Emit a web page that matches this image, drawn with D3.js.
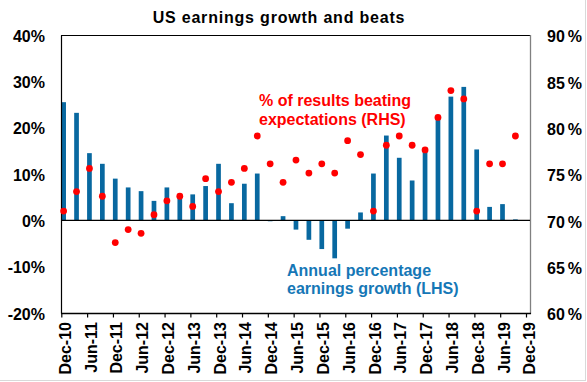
<!DOCTYPE html>
<html>
<head>
<meta charset="utf-8">
<script src="https://cdn.jsdelivr.net/npm/d3@7"></script>
<style>
  html, body { margin: 0; padding: 0; background: #fff; }
  svg { display: block; font-family: "Liberation Sans", Arial, sans-serif; }
</style>
</head>
<body>
<svg id="chart" width="587" height="382"></svg>
<script>
// ---- Data ----
const quarters = ["Dec-10","Mar-11","Jun-11","Sep-11","Dec-11","Mar-12","Jun-12","Sep-12","Dec-12",
  "Mar-13","Jun-13","Sep-13","Dec-13","Mar-14","Jun-14","Sep-14","Dec-14","Mar-15","Jun-15","Sep-15",
  "Dec-15","Mar-16","Jun-16","Sep-16","Dec-16","Mar-17","Jun-17","Sep-17","Dec-17","Mar-18","Jun-18",
  "Sep-18","Dec-18","Mar-19","Jun-19","Sep-19"];
const earningsGrowth = [25.5, 23.2, 14.5, 12.2, 9.0, 7.1, 6.3, 4.2, 7.1, 5.5, 5.6, 7.4, 12.2, 3.7, 7.9,
  10.1, -0.2, 0.9, -2.0, -4.2, -6.2, -8.2, -1.8, 1.7, 10.1, 18.3, 13.5, 8.6, 15.1, 22.2, 26.7, 28.8,
  15.3, 2.9, 3.5, 0.2];
const beatPct = [71.0, 73.1, 75.6, 72.6, 67.6, 69.0, 68.6, 70.6, 72.1, 72.6, 71.5, 74.5, 73.1, 74.1,
  75.6, 79.1, 76.1, 74.1, 76.5, 75.1, 76.1, 75.1, 78.6, 77.1, 71.0, 78.1, 79.1, 78.1, 77.6, 81.1, 84.0,
  83.1, 71.0, 76.1, 76.1, 79.1];
const xTickLabels = ["Dec-10","Jun-11","Dec-11","Jun-12","Dec-12","Jun-13","Dec-13","Jun-14","Dec-14",
  "Jun-15","Dec-15","Jun-16","Dec-16","Jun-17","Dec-17","Jun-18","Dec-18","Jun-19","Dec-19"];
const leftTicks = [-20, -10, 0, 10, 20, 30, 40];
const rightTicks = [60, 65, 70, 75, 80, 85, 90];
const title = "US earnings growth and beats";
const redLabel = ["% of results beating", "expectations (RHS)"];
const blueLabel = ["Annual percentage", "earnings growth (LHS)"];

// ---- Layout ----
const svg = d3.select("#chart");
const plot = { left: 61, right: 530, top: 35, bottom: 313 };
const barColor = "#0868a0";
const dotColor = "#ff0000";
const textBlue = "#1577b6";

const x = d3.scaleLinear().domain([0, 36]).range([61.3, 526]);
const barOffset = 0.18; // bars sit slightly right of the tick dates
const yL = d3.scaleLinear().domain([-20, 40]).range([plot.bottom, plot.top]);
const yR = d3.scaleLinear().domain([60, 90]).range([plot.bottom, plot.top]);

// outer light border (right / bottom)
svg.append("line").attr("x1", 585.5).attr("x2", 585.5).attr("y1", 0).attr("y2", 381)
  .attr("stroke", "#d9d9d9");
svg.append("line").attr("x1", 0).attr("x2", 586).attr("y1", 380.5).attr("y2", 380.5)
  .attr("stroke", "#d9d9d9");

// Title
svg.append("text").attr("x", 279).attr("y", 23).attr("text-anchor", "middle")
  .attr("font-size", 16).attr("font-weight", "bold").attr("letter-spacing", 0.8)
  .attr("fill", "#000").text(title);

// Bars
const bw = 4.7;
svg.append("g").selectAll("rect").data(earningsGrowth).join("rect")
  .attr("x", (d, i) => x(i + barOffset) - bw / 2)
  .attr("width", bw)
  .attr("y", d => yL(Math.max(0, d)))
  .attr("height", d => Math.abs(yL(d) - yL(0)))
  .attr("fill", barColor);

// Frame: top line, right gray line
svg.append("line").attr("x1", plot.left).attr("x2", plot.right).attr("y1", plot.top + 0.5).attr("y2", plot.top + 0.5)
  .attr("stroke", "#000").attr("stroke-width", 1);
svg.append("line").attr("x1", plot.right + 0.5).attr("x2", plot.right + 0.5).attr("y1", plot.top).attr("y2", plot.bottom + 1)
  .attr("stroke", "#808080").attr("stroke-width", 1.3);

// Zero line
svg.append("line").attr("x1", plot.left).attr("x2", plot.right).attr("y1", yL(0)).attr("y2", yL(0))
  .attr("stroke", "#000").attr("stroke-width", 1.2);

// Left axis
const gL = svg.append("g").attr("transform", `translate(${plot.left},0)`)
  .call(d3.axisLeft(yL).tickValues(leftTicks).tickSize(0).tickPadding(16).tickFormat(d => d + "%"));
gL.select(".domain").attr("stroke", "#000").attr("stroke-width", 1.2);
gL.selectAll("text").attr("font-size", 16).attr("font-weight", "bold").attr("fill", "#000")
  .attr("font-family", "Liberation Sans, Arial, sans-serif").attr("dy", "0.38em");

// Right axis labels
const gR = svg.append("g").attr("transform", `translate(${plot.right},0)`)
  .call(d3.axisRight(yR).tickValues(rightTicks).tickSize(0).tickPadding(17).tickFormat(d => d));
gR.select(".domain").remove();
gR.selectAll("text").attr("font-size", 16).attr("font-weight", "bold").attr("fill", "#000")
  .attr("font-family", "Liberation Sans, Arial, sans-serif").attr("dy", "0.42em")
  .each(function() {
    d3.select(this).append("tspan").attr("dx", 3).text("%");
  });

// Bottom axis
const xTickVals = xTickLabels.map((_, i) => i * 2);
const gB = svg.append("g").attr("transform", `translate(0,${plot.bottom})`)
  .call(d3.axisBottom(x).tickValues(xTickVals).tickSize(4.5).tickFormat((d, i) => xTickLabels[i]));
gB.select(".domain").attr("d", `M${plot.left},0.5H${plot.right + 1}`).attr("stroke", "#000").attr("stroke-width", 1.3);
gB.selectAll(".tick line").attr("stroke", "#000").attr("stroke-width", 1.2);
gB.selectAll("text").attr("font-size", 16).attr("font-weight", "bold").attr("fill", "#000")
  .attr("font-family", "Liberation Sans, Arial, sans-serif")
  .attr("text-anchor", "end")
  .attr("transform", "rotate(-90)")
  .attr("x", -9).attr("y", 3.3).attr("dy", "0.35em");

// Dots
svg.append("g").selectAll("circle").data(beatPct).join("circle")
  .attr("cx", (d, i) => x(i + barOffset))
  .attr("cy", d => yR(d))
  .attr("r", 3.4)
  .attr("fill", dotColor);

// Annotations
const red = svg.append("text").attr("font-size", 16).attr("font-weight", "bold").attr("fill", dotColor);
red.selectAll("tspan").data(redLabel).join("tspan")
  .attr("x", 259).attr("y", (d, i) => 105.5 + i * 19).text(d => d);

const blue = svg.append("text").attr("font-size", 16).attr("font-weight", "bold").attr("fill", textBlue);
blue.selectAll("tspan").data(blueLabel).join("tspan")
  .attr("x", 287).attr("y", (d, i) => 275.5 + i * 18.5).text(d => d);
</script>
</body>
</html>
